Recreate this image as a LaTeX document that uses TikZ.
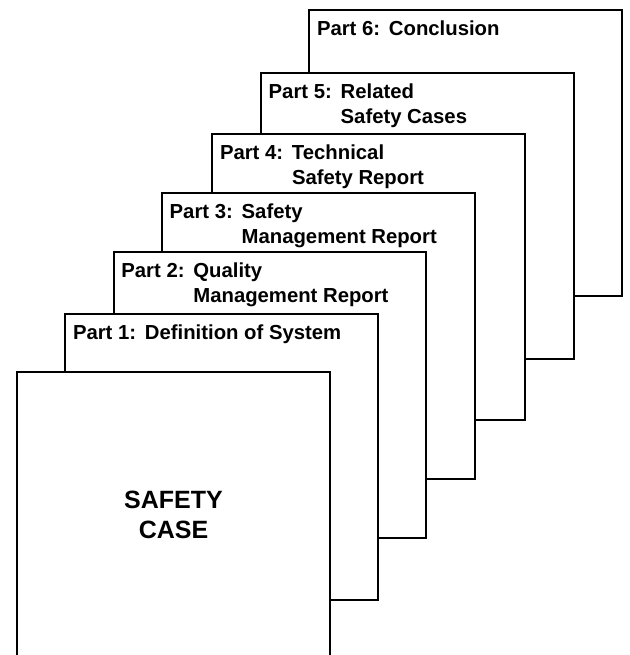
\documentclass[tikz,border=0pt]{standalone}
\usepackage{fontspec}
\setmainfont{Liberation Sans}
\usetikzlibrary{positioning}

\newcommand{\partno}[1]{\makebox[72pt][l]{Part #1:}}

\tikzset{
  page/.style={draw, fill=white, line width=2pt, outer sep=0pt, inner sep=0pt,
    minimum width=312.5pt, minimum height=286pt, anchor=north west},
  heading/.style={inner sep=0pt, align=left,
    font=\bfseries\fontsize{20.3pt}{25pt}\selectfont},
}

\begin{document}
\begin{tikzpicture}[x=1pt,y=1pt]
    \useasboundingbox (0,0) rectangle (629,-655);

    % pages, from the back to the front
    \node[page] (p6) at (309.3,-10) {};
    \node[heading, below right=10.5pt and 7.5pt of p6.north west] (h6) {\partno{6}Conclusion};

    \node[page] (p5) at (261,-72.7) {};
    \node[heading, below right=10.5pt and 7.5pt of p5.north west] (h5) {\partno{5}Related\\\hspace*{72pt}Safety Cases};

    \node[page] (p4) at (212.3,-134.3) {};
    \node[heading, below right=10.5pt and 7.5pt of p4.north west] (h4) {\partno{4}Technical\\\hspace*{72pt}Safety Report};

    \node[page] (p3) at (162,-193.3) {};
    \node[heading, below right=10.5pt and 7.5pt of p3.north west] (h3) {\partno{3}Safety\\\hspace*{72pt}Management Report};

    \node[page] (p2) at (113.7,-251.7) {};
    \node[heading, below right=10.5pt and 7.5pt of p2.north west] (h2) {\partno{2}Quality\\\hspace*{72pt}Management Report};

    \node[page] (p1) at (65.3,-314) {};
    \node[heading, below right=10.5pt and 7.5pt of p1.north west] (h1) {\partno{1}Definition of System};

    % front cover
    \node[page, align=center, font=\bfseries\fontsize{25pt}{30.4pt}\selectfont] (case) at (17.3,-371.7) {SAFETY\\CASE};
\end{tikzpicture}
\end{document}
